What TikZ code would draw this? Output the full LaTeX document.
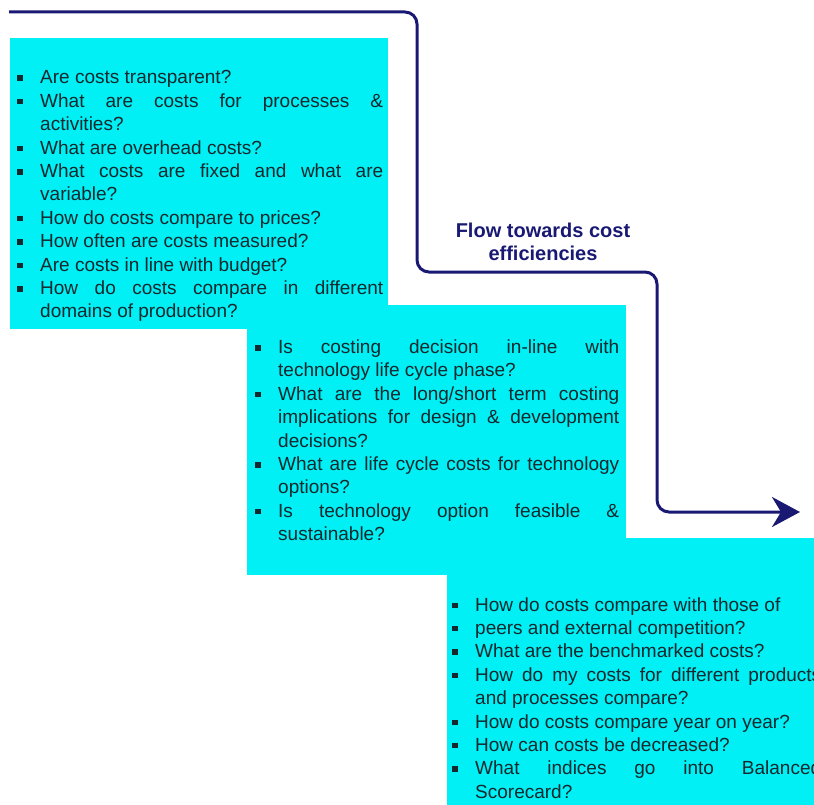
\documentclass[tikz,border=0pt]{standalone}
\usepackage{fontspec}
\setmainfont{Liberation Sans}
\usetikzlibrary{arrows.meta}
\definecolor{boxcyan}{RGB}{0,240,245}
\definecolor{navy}{RGB}{25,25,115}
\definecolor{txt}{RGB}{20,40,45}
\hyphenpenalty=10000
\exhyphenpenalty=10000
\tolerance=10000
\newcommand\bq[1]{\noindent\hangindent=23pt\hangafter=1\makebox[23pt][l]{\raisebox{3pt}{\rule{5.5pt}{5.5pt}}}#1\par}
\tikzset{
  cbox/.style={fill=boxcyan, draw=none, inner sep=0pt, anchor=north west},
  qtext/.style={anchor=base west, inner sep=0pt, align=justify, text=txt,
    font=\fontsize{19}{23.4}\selectfont},
  flow/.style={draw=navy, line width=3pt, rounded corners=12pt,
    -{Stealth[length=28pt,width=30pt,inset=9pt]}},
}
\begin{document}
\begin{tikzpicture}[x=1pt,y=-1pt]
\useasboundingbox (0,0) rectangle (814,805);
% box 1
\node[cbox, minimum width=378pt, minimum height=291pt] (b1) at (10,38) {};
\node[qtext, text width=366pt] (t1) at (17,84) {%
\bq{Are costs transparent?}%
\bq{What are costs for processes \&\linebreak activities?}%
\bq{What are overhead costs?}%
\bq{What costs are fixed and what are\linebreak variable?}%
\bq{How do costs compare to prices?}%
\bq{How often are costs measured?}%
\bq{Are costs in line with budget?}%
\bq{How do costs compare in different\linebreak domains of production?}};
% box 2
\node[cbox, minimum width=379pt, minimum height=270pt] (b2) at (247,305) {};
\node[qtext, text width=364pt] (t2) at (255,353.5) {%
\bq{Is costing decision in-line with\linebreak technology life cycle phase?}%
\bq{What are the long/short term costing\linebreak implications for design \& development\linebreak decisions?}%
\bq{What are life cycle costs for technology\linebreak options?}%
\bq{Is technology option feasible \&\linebreak sustainable?}};
% box 3
\node[cbox, minimum width=373pt, minimum height=272pt] (b3) at (447,538) {};
\node[qtext, text width=369pt] (t3) at (452,611) {%
\bq{How do costs compare with those of}%
\bq{peers and external competition?}%
\bq{What are the benchmarked costs?}%
\bq{How do my costs for different products\linebreak and processes compare?}%
\bq{How do costs compare year on year?}%
\bq{How can costs be decreased?}%
\bq{What indices go into Balanced\linebreak Scorecard?}};
% flow arrow
\coordinate (s) at (9,12);
\coordinate (c1) at (417,12);
\coordinate (c2) at (417,272);
\coordinate (c3) at (657,272);
\coordinate (c4) at (657,512);
\coordinate (e) at (800,512);
\draw[flow] (s) -- (c1) -- (c2) -- (c3) -- (c4) -- (e);
\node[anchor=base, inner sep=0pt, align=center, text=navy,
  font=\bfseries\fontsize{20}{24}\selectfont] (lbl) at (543,261) {Flow towards cost\\efficiencies};
\end{tikzpicture}
\end{document}
